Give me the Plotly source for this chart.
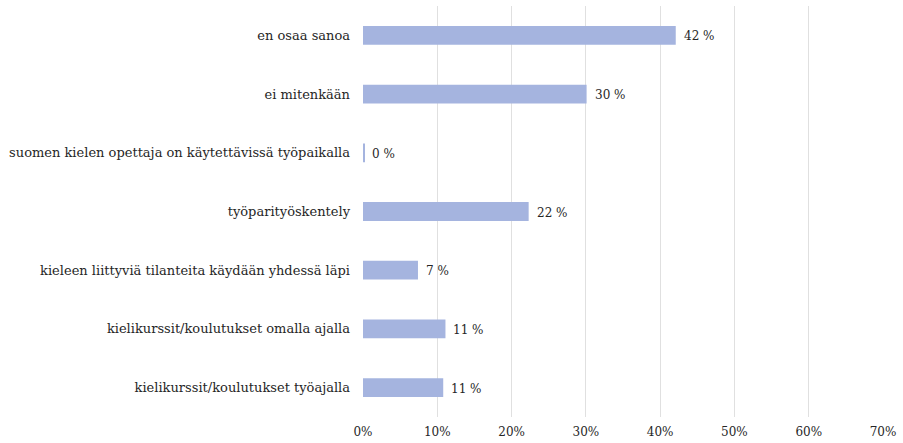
import plotly.graph_objects as go

categories = [
    "en osaa sanoa",
    "ei mitenkään",
    "suomen kielen opettaja on käytettävissä työpaikalla",
    "työparityöskentely",
    "kieleen liittyviä tilanteita käydään yhdessä läpi",
    "kielikurssit/koulutukset omalla ajalla",
    "kielikurssit/koulutukset työajalla",
]
values = [0.421, 0.301, 0.002, 0.223, 0.074, 0.111, 0.108]
labels = ["42 %", "30 %", "0 %", "22 %", "7 %", "11 %", "11 %"]
tick_vals = [0, 0.1, 0.2, 0.3, 0.4, 0.5, 0.6, 0.7]
tick_text = ["0%", "10%", "20%", "30%", "40%", "50%", "60%", "70%"]

font_family = "DejaVu Serif"

fig = go.Figure()
fig.add_trace(go.Bar(
    y=categories, x=values, orientation="h",
    marker=dict(color="#A5B4DF", line=dict(width=0)),
    hoverinfo="skip",
))
for c, v, t in zip(categories, values, labels):
    fig.add_annotation(x=v, y=c, text=t, showarrow=False, xanchor="left",
                       xshift=6, yshift=-1, font=dict(size=12, color="#262626", family=font_family))

fig.update_layout(
    width=903, height=443,
    margin=dict(l=363, r=20, t=6, b=26),
    plot_bgcolor="white", paper_bgcolor="white",
    bargap=0.68,
    showlegend=False,
    font=dict(family=font_family, size=13, color="#262626"),
)
fig.update_xaxes(range=[0, 0.7], tickvals=tick_vals, ticktext=tick_text,
                 showgrid=True, gridcolor="#E0E0E0", gridwidth=1, zeroline=False,
                 showline=False, ticks="", tickfont=dict(size=12), automargin=False,
                 ticklabelstandoff=6)
fig.update_yaxes(categoryorder="array", categoryarray=categories[::-1],
                 autorange=True, showgrid=False, showline=False, ticks="",
                 ticklabelstandoff=12, tickfont=dict(size=13), automargin=False)

fig.write_html("out.html", config={"displayModeBar": False},
               post_script="document.body.style.margin='0';")
